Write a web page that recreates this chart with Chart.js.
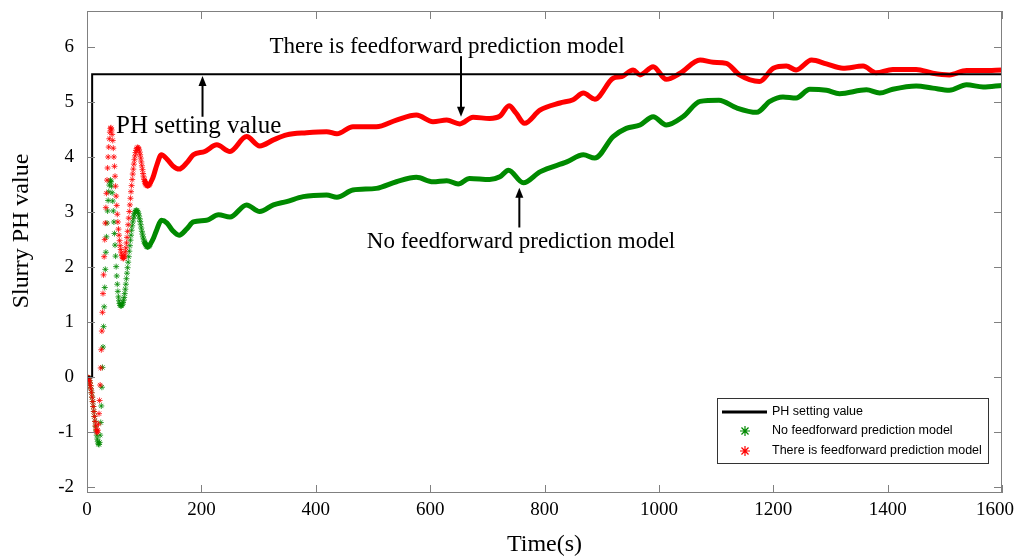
<!DOCTYPE html>
<html>
<head>
<meta charset="utf-8">
<script src="https://cdn.jsdelivr.net/npm/chart.js@4.4.0/dist/chart.umd.min.js"></script>
<style>
html, body { margin: 0; padding: 0; background: #fff; }
#wrap { width: 1018px; height: 557px; }
</style>
</head>
<body>
<div id="wrap"><canvas id="phChart"></canvas></div>
<script>
// PH setpoint (step at ~9 s)
const setTime = [0, 9, 9, 1600];
const setValue = [0, 0, 5.5, 5.5];

// first 110 s, one sample per second (drawn as separate * markers)
const earlyTime = [0,1,2,3,4,5,6,7,8,9,10,11,12,13,14,15,16,17,18,19,20,21,22,23,24,25,26,27,28,29,
  30,31,32,33,34,35,36,37,38,39,40,41,42,43,44,45,46,47,48,49,50,51,52,53,54,55,56,57,58,59,
  60,61,62,63,64,65,66,67,68,69,70,71,72,73,74,75,76,77,78,79,80,81,82,83,84,85,86,87,88,89,
  90,91,92,93,94,95,96,97,98,99,100,101,102,103,104,105,106,107,108,109,110];
const earlyFf = [0,0,-0.01,-0.03,-0.06,-0.1,-0.15,-0.21,-0.28,-0.36,
  -0.44,-0.53,-0.62,-0.71,-0.8,-0.88,-0.95,-0.99,-1.0,-0.96,
  -0.85,-0.66,-0.42,-0.14,0.17,0.5,0.84,1.18,1.52,1.86,
  2.19,2.5,2.8,3.08,3.34,3.58,3.8,4.0,4.18,4.33,
  4.45,4.52,4.53,4.49,4.41,4.3,4.16,4.0,3.83,3.65,
  3.47,3.29,3.12,2.96,2.82,2.69,2.58,2.48,2.39,2.32,
  2.26,2.21,2.18,2.16,2.16,2.18,2.22,2.28,2.35,2.44,
  2.54,2.65,2.77,2.89,3.01,3.13,3.25,3.37,3.48,3.59,
  3.69,3.78,3.87,3.95,4.02,4.08,4.12,4.15,4.17,4.17,
  4.16,4.13,4.09,4.04,3.98,3.91,3.84,3.77,3.7,3.64,
  3.59,3.55,3.52,3.5,3.49,3.48,3.48,3.48,3.49,3.5,3.52];
const earlyNoFf = [0,0,-0.01,-0.03,-0.06,-0.1,-0.15,-0.21,-0.28,-0.36,
  -0.44,-0.53,-0.62,-0.71,-0.8,-0.89,-0.97,-1.05,-1.12,-1.17,
  -1.21,-1.22,-1.18,-1.05,-0.82,-0.52,-0.18,0.18,0.55,0.92,
  1.28,1.63,1.96,2.27,2.55,2.8,3.02,3.21,3.37,3.49,
  3.56,3.58,3.55,3.47,3.35,3.2,3.02,2.82,2.61,2.4,
  2.2,2.01,1.84,1.69,1.56,1.46,1.39,1.34,1.31,1.3,
  1.3,1.31,1.33,1.36,1.4,1.45,1.52,1.6,1.69,1.79,
  1.89,1.99,2.09,2.19,2.29,2.39,2.49,2.58,2.67,2.75,
  2.82,2.88,2.93,2.97,3.0,3.02,3.03,3.03,3.02,3.0,
  2.97,2.93,2.88,2.83,2.77,2.71,2.65,2.6,2.55,2.51,
  2.47,2.44,2.42,2.4,2.38,2.37,2.37,2.37,2.38,2.39,2.41];

// later part, samples merge into a thick curve
const lateTimeFf = [100,106,115,122,130,140,150,161,175,186,206,227,250,279,302,326,349,384,419,437,
  465,506,541,576,605,629,652,675,704,722,738,750,765,792,827,850,868,888,920,935,
  955,967,990,1013,1037,1072,1095,1118,1141,1176,1200,1223,1240,1267,1293,1322,1357,1380,1409,1450,
  1479,1508,1538,1567,1600];
const lateFf = [3.59,3.48,3.62,3.85,4.04,3.96,3.84,3.78,3.9,4.04,4.1,4.22,4.1,4.37,4.2,4.31,4.4,4.44,4.46,4.42,
  4.55,4.55,4.67,4.76,4.64,4.67,4.6,4.72,4.7,4.74,4.93,4.8,4.61,4.85,4.98,5.04,5.16,5.05,5.43,5.46,
  5.58,5.49,5.64,5.41,5.52,5.76,5.72,5.7,5.49,5.37,5.61,5.65,5.58,5.76,5.69,5.61,5.65,5.53,5.59,5.59,
  5.52,5.49,5.57,5.57,5.58];
const lateTimeNoFf = [100,106,115,122,130,140,150,161,175,186,209,230,250,279,302,326,349,378,419,437,
  465,506,541,576,605,629,649,669,704,722,737,763,792,839,868,888,920,943,967,990,
  1013,1042,1072,1105,1136,1171,1194,1217,1240,1264,1293,1316,1363,1386,1409,1450,1479,1508,1538,1567,
  1600];
const lateNoFf = [2.47,2.37,2.5,2.68,2.85,2.8,2.66,2.58,2.7,2.82,2.85,2.95,2.91,3.13,3.01,3.13,3.19,3.28,3.31,3.27,
  3.4,3.43,3.55,3.63,3.55,3.57,3.51,3.61,3.59,3.64,3.76,3.53,3.73,3.91,4.04,3.98,4.37,4.52,4.58,4.73,
  4.58,4.73,5.01,5.03,4.89,4.81,5.01,5.09,5.07,5.23,5.21,5.15,5.22,5.16,5.23,5.29,5.25,5.21,5.31,5.27,
  5.3];

const seriesNames = ['PH setting value', 'No feedforward prediction model', 'There is feedforward prediction model'];
const RED = '#ff0000';
const GREEN = '#008a00';
const SERIF = '"Liberation Serif", "Times New Roman", serif';
const SANS = '"Liberation Sans", Arial, sans-serif';

function pts(xs, ys) { return xs.map((x, i) => ({ x: x, y: ys[i] })); }

// box + inward ticks like the original figure
const framePlugin = {
  id: 'frame',
  afterDatasetsDraw(chart) {
    const { ctx, chartArea: a, scales } = chart;
    ctx.save();
    ctx.strokeStyle = '#808080';
    ctx.lineWidth = 1;
    ctx.strokeRect(a.left + 0.5, a.top + 0.5, a.right - a.left - 1, a.bottom - a.top - 1);
    ctx.beginPath();
    scales.x.ticks.forEach(t => {
      const px = Math.round(scales.x.getPixelForValue(t.value)) + 0.5;
      ctx.moveTo(px, a.bottom); ctx.lineTo(px, a.bottom - 8);
      ctx.moveTo(px, a.top); ctx.lineTo(px, a.top + 8);
    });
    scales.y.ticks.forEach(t => {
      const py = Math.round(scales.y.getPixelForValue(t.value)) + 0.5;
      ctx.moveTo(a.left, py); ctx.lineTo(a.left + 8, py);
      ctx.moveTo(a.right, py); ctx.lineTo(a.right - 8, py);
    });
    ctx.stroke();
    ctx.restore();
  }
};

function arrow(ctx, x, yTail, yTip) {
  const dir = yTip > yTail ? 1 : -1;
  ctx.beginPath();
  ctx.moveTo(x, yTail);
  ctx.lineTo(x, yTip - dir * 8);
  ctx.stroke();
  ctx.beginPath();
  ctx.moveTo(x, yTip);
  ctx.lineTo(x - 4, yTip - dir * 10);
  ctx.lineTo(x + 4, yTip - dir * 10);
  ctx.closePath();
  ctx.fill();
}

function drawStar(ctx, cx, cy, color) {
  ctx.save();
  ctx.strokeStyle = color;
  ctx.lineWidth = 1.2;
  ctx.beginPath();
  for (let k = 0; k < 4; k++) {
    const ang = k * Math.PI / 4;
    ctx.moveTo(cx - 5 * Math.cos(ang), cy - 5 * Math.sin(ang));
    ctx.lineTo(cx + 5 * Math.cos(ang), cy + 5 * Math.sin(ang));
  }
  ctx.stroke();
  ctx.restore();
}

const notesPlugin = {
  id: 'notes',
  afterDraw(chart) {
    const { ctx, scales: { x, y } } = chart;
    ctx.save();
    ctx.fillStyle = '#000';
    ctx.strokeStyle = '#000';
    ctx.lineWidth = 2;
    arrow(ctx, x.getPixelForValue(202), y.getPixelForValue(4.73), y.getPixelForValue(5.47));
    arrow(ctx, x.getPixelForValue(654), y.getPixelForValue(5.83), y.getPixelForValue(4.73));
    arrow(ctx, x.getPixelForValue(756), y.getPixelForValue(2.72), y.getPixelForValue(3.44));

    ctx.textBaseline = 'middle';
    ctx.font = '25px ' + SERIF;
    ctx.textAlign = 'left';
    ctx.fillText('PH setting value', 116, 126);
    ctx.font = '23px ' + SERIF;
    ctx.textAlign = 'center';
    ctx.fillText('There is feedforward prediction model', 447, 47);
    ctx.fillText('No feedforward prediction model', 521, 242);

    // y axis title
    ctx.save();
    ctx.translate(22, 231);
    ctx.rotate(-Math.PI / 2);
    ctx.font = '24px ' + SERIF;
    ctx.fillText('Slurry PH value', 0, 0);
    ctx.restore();

    // legend box
    const bx = 717, by = 398, bw = 271, bh = 65;
    ctx.fillStyle = '#fff';
    ctx.fillRect(bx, by, bw, bh);
    ctx.lineWidth = 1;
    ctx.strokeStyle = '#333';
    ctx.strokeRect(bx + 0.5, by + 0.5, bw, bh);
    ctx.strokeStyle = '#000';
    ctx.lineWidth = 3;
    ctx.beginPath();
    ctx.moveTo(722, 412); ctx.lineTo(767, 412);
    ctx.stroke();
    drawStar(ctx, 745, 431, GREEN);
    drawStar(ctx, 745, 451, RED);
    ctx.fillStyle = '#000';
    ctx.font = '12.5px ' + SANS;
    ctx.textAlign = 'left';
    ctx.fillText(seriesNames[0], 772, 412);
    ctx.fillText(seriesNames[1], 772, 431);
    ctx.fillText(seriesNames[2], 772, 451);
    ctx.restore();
  }
};

new Chart(document.getElementById('phChart'), {
  type: 'scatter',
  data: {
    datasets: [
      {
        label: seriesNames[0],
        data: pts(setTime, setValue),
        showLine: true,
        borderColor: '#000',
        borderWidth: 2,
        pointRadius: 0
      },
      {
        label: seriesNames[2],
        data: pts(earlyTime, earlyFf),
        showLine: false,
        pointStyle: 'star',
        pointRadius: 3,
        pointBorderWidth: 1,
        borderColor: 'rgba(255,0,0,0.8)',
        backgroundColor: 'rgba(255,0,0,0.8)'
      },
      {
        label: seriesNames[2],
        data: pts(lateTimeFf, lateFf),
        showLine: true,
        borderColor: RED,
        borderWidth: 5,
        pointRadius: 0,
        cubicInterpolationMode: 'monotone'
      },
      {
        label: seriesNames[1],
        data: pts(earlyTime, earlyNoFf),
        showLine: false,
        pointStyle: 'star',
        pointRadius: 3,
        pointBorderWidth: 1,
        borderColor: 'rgba(0,138,0,0.8)',
        backgroundColor: 'rgba(0,138,0,0.8)'
      },
      {
        label: seriesNames[1],
        data: pts(lateTimeNoFf, lateNoFf),
        showLine: true,
        borderColor: GREEN,
        borderWidth: 5,
        pointRadius: 0,
        cubicInterpolationMode: 'monotone'
      }
    ]
  },
  options: {
    responsive: true,
    maintainAspectRatio: false,
    animation: false,
    layout: { padding: { top: 11, right: 16, left: 0, bottom: 0 } },
    plugins: {
      legend: { display: false },
      tooltip: { enabled: false }
    },
    scales: {
      x: {
        type: 'linear',
        min: 0,
        max: 1600,
        grid: { display: false, drawTicks: false },
        border: { display: false },
        ticks: {
          stepSize: 200,
          autoSkip: false,
          maxRotation: 0,
          padding: 6,
          color: '#000',
          font: { family: SERIF, size: 19 },
          callback: v => (v === 1600 ? '1600   ' : String(v))
        },
        title: {
          display: true,
          text: 'Time(s)',
          color: '#000',
          font: { family: SERIF, size: 24, lineHeight: 1 },
          padding: { top: 0, bottom: 0 }
        },
        afterFit: s => { s.height = 64; s.paddingLeft = 0; s.paddingRight = 0; }
      },
      y: {
        type: 'linear',
        min: -2.1,
        max: 6.65,
        grid: { display: false, drawTicks: false },
        border: { display: false },
        ticks: {
          stepSize: 1,
          includeBounds: false,
          padding: 13,
          color: '#000',
          font: { family: SERIF, size: 19 }
        },
        afterFit: s => { s.width = 87; s.paddingTop = 0; s.paddingBottom = 0; }
      }
    }
  },
  plugins: [framePlugin, notesPlugin]
});
</script>
</body>
</html>
